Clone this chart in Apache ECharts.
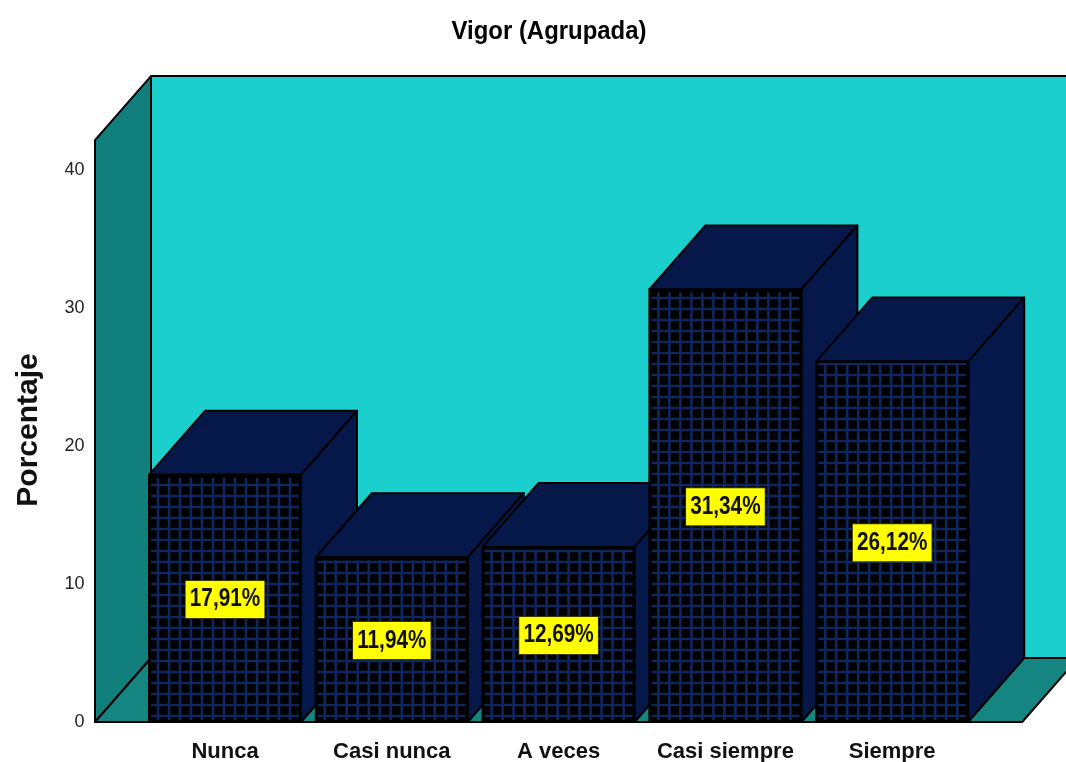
<!DOCTYPE html>
<html>
<head>
<meta charset="utf-8">
<title>Vigor (Agrupada)</title>
<style>
  html, body { margin: 0; padding: 0; background: #fff; }
  #chart { width: 1066px; height: 762px; }
</style>
</head>
<body>
<div id="chart"></div>
<script src="https://cdn.jsdelivr.net/npm/echarts@6/dist/echarts.min.js"></script>
<script>
const categories = ['Nunca', 'Casi nunca', 'A veces', 'Casi siempre', 'Siempre'];
const percentages = [17.91, 11.94, 12.69, 31.34, 26.12];
const valueLabels = ['17,91%', '11,94%', '12,69%', '31,34%', '26,12%'];
const wallTop = 42.17;

// profundidad del falso 3D, en pixeles
const DX = 56;
const DY = -64;
const BAR_WIDTH = 152;
const FLOOR_PAD = 46.6;
const MESH = 11;

const FONT = '"Liberation Sans", Arial, sans-serif';
const EDGE = { stroke: '#000', lineWidth: 2, lineJoin: 'round' };

function poly(points, fill) {
  return { type: 'polygon', shape: { points: points }, style: Object.assign({ fill: fill }, EDGE) };
}

function renderWalls(params, api) {
  const band = api.size([1, 0])[0];
  const o = api.coord([0, 0]);
  const left = o[0] - band / 2 - FLOOR_PAD;
  const right = left + band * categories.length + FLOOR_PAD * 2;
  const bottom = o[1];
  const top = api.coord([0, wallTop])[1];
  return {
    type: 'group',
    children: [
      poly([[left + DX, bottom + DY], [right + DX, bottom + DY], [right + DX, top + DY], [left + DX, top + DY]], '#1ccfcf'),
      poly([[left, bottom], [left + DX, bottom + DY], [left + DX, top + DY], [left, top]], '#117f7c'),
      poly([[left, bottom], [right, bottom], [right + DX, bottom + DY], [left + DX, bottom + DY]], '#148580')
    ]
  };
}

function renderBar(params, api) {
  const i = api.value(0);
  const c = api.coord([i, api.value(1)]);
  const b = api.coord([i, 0]);
  const x0 = c[0] - BAR_WIDTH / 2;
  const x1 = c[0] + BAR_WIDTH / 2;
  const y0 = c[1];
  const y1 = b[1];
  const children = [
    poly([[x0, y0], [x0 + DX, y0 + DY], [x1 + DX, y0 + DY], [x1, y0]], '#06174a'),
    poly([[x1, y0], [x1 + DX, y0 + DY], [x1 + DX, y1 + DY], [x1, y1]], '#06174a'),
    { type: 'rect', shape: { x: x0, y: y0, width: BAR_WIDTH, height: y1 - y0 }, style: { fill: '#000' } }
  ];
  // trama de la cara frontal
  for (let x = x0 + 9; x < x1 - 2; x += MESH) {
    children.push({ type: 'line', shape: { x1: x, y1: y0 + 3, x2: x, y2: y1 - 2 }, style: { stroke: '#10265f', lineWidth: 2.6 } });
  }
  for (let y = y1 - 6; y > y0 + 2; y -= MESH) {
    children.push({ type: 'line', shape: { x1: x0 + 2, y1: y, x2: x1 - 2, y2: y }, style: { stroke: '#10265f', lineWidth: 2.6 } });
  }
  children.push({ type: 'rect', shape: { x: x0, y: y0, width: BAR_WIDTH, height: y1 - y0 }, style: { fill: 'none', stroke: '#000', lineWidth: 2 } });
  children.push({
    type: 'text',
    x: c[0],
    y: (y0 + y1) / 2 + 1,
    scaleX: 0.83,
    style: {
      text: valueLabels[i],
      font: 'bold 25px ' + FONT,
      fill: '#111',
      align: 'center',
      verticalAlign: 'middle',
      backgroundColor: '#ffff00',
      borderColor: '#3a3a00',
      borderWidth: 1,
      padding: [6, 5, 6, 5]
    },
    z2: 10
  });
  return { type: 'group', children: children };
}

const chart = echarts.init(document.getElementById('chart'));
chart.setOption({
  animation: false,
  backgroundColor: '#fff',
  graphic: [{
    type: 'text',
    x: 549,
    y: 32,
    scaleX: 0.92,
    style: { text: 'Vigor (Agrupada)', font: 'bold 26px ' + FONT, fill: '#000', align: 'center', verticalAlign: 'middle' }
  }],
  grid: { left: 141.6, top: 170, width: 834, height: 552, outerBoundsMode: 'none' },
  xAxis: {
    type: 'category',
    data: categories,
    axisLine: { show: false },
    axisTick: { show: false },
    axisLabel: { margin: 19, interval: 0, fontFamily: FONT, fontWeight: 'bold', fontSize: 22, color: '#111' }
  },
  yAxis: {
    type: 'value',
    min: 0,
    max: 40,
    interval: 10,
    name: 'Porcentaje',
    nameLocation: 'middle',
    nameGap: 98,
    nameTextStyle: { fontFamily: FONT, fontWeight: 'bold', fontSize: 30, color: '#111', padding: [0, 0, 0, 32] },
    axisLine: { show: false },
    axisTick: { show: false },
    splitLine: { show: false },
    axisLabel: { margin: 57, fontFamily: FONT, fontSize: 18, color: '#222', padding: [4, 0, 0, 0] }
  },
  series: [
    { type: 'custom', silent: true, z: 1, renderItem: renderWalls, data: [[0, 0]] },
    {
      type: 'custom',
      silent: true,
      z: 2,
      renderItem: renderBar,
      encode: { x: 0, y: 1 },
      data: percentages.map((v, i) => [i, v])
    }
  ]
});
</script>
</body>
</html>
